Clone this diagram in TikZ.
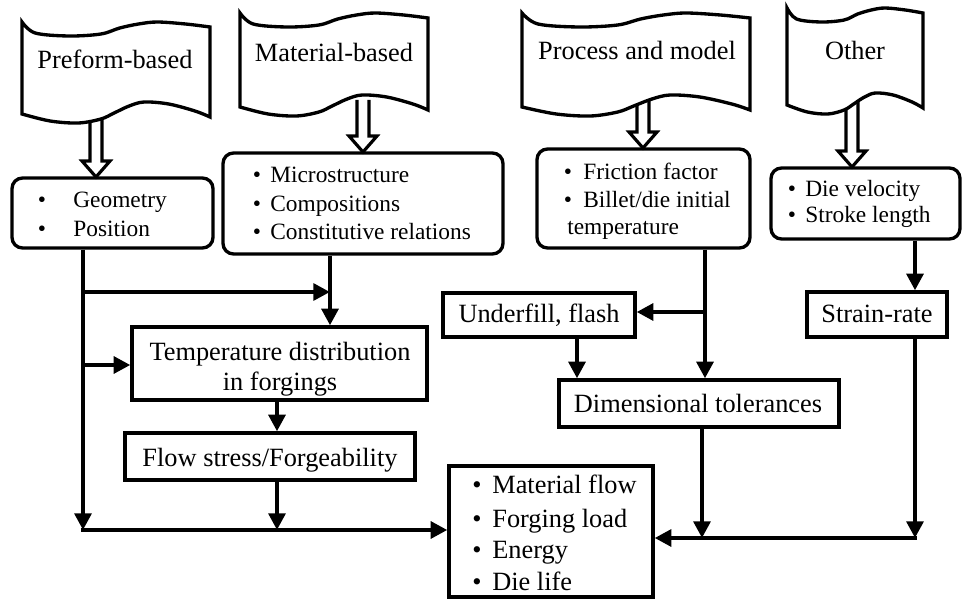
\documentclass[tikz,border=0pt]{standalone}
\usepackage{fontspec}
\setmainfont{Liberation Serif}
\usetikzlibrary{arrows.meta,fit}
\newcommand\fsBig{\fontsize{15}{17}\selectfont}
\newcommand\fsSmall{\fontsize{13.3}{16}\selectfont}
\newcommand\flagshape[4]{%
\draw[flagline] plot[smooth,tension=0.55] coordinates {(#1,#2) ({#1+0.07*#3},{#2+11}) ({#1+0.25*#3},{#2+14}) ({#1+0.42*#3},{#2+12}) ({#1+0.52*#3},{#2+6}) ({#1+0.62*#3},{#2+2}) ({#1+0.72*#3},{#2}) ({#1+0.87*#3},{#2+2}) ({#1+#3},{#2+5})}
 -- plot[smooth,tension=0.55] coordinates {({#1+#3},{#2+#4+3}) ({#1+0.92*#3},{#2+#4-3}) ({#1+0.78*#3},{#2+#4-10}) ({#1+0.65*#3},{#2+#4-12}) ({#1+0.57*#3},{#2+#4-8}) ({#1+0.49*#3},{#2+#4-1}) ({#1+0.42*#3},{#2+#4+5}) ({#1+0.3*#3},{#2+#4+9}) ({#1+0.15*#3},{#2+#4+7}) (#1,{#2+#4})} -- cycle;}
\newcommand\hollowarrow[3]{%
\draw[hollow] ({#1-6},#2) -- ({#1-6},{#3-16}) -- ({#1-14},{#3-16}) -- (#1,#3) -- ({#1+14},{#3-16}) -- ({#1+6},{#3-16}) -- ({#1+6},#2);}
\tikzset{
 conn/.style={line width=2.3pt, -{Triangle[length=9.5pt,width=9.5pt]}},
 rbox/.style={draw, line width=1.9pt, rounded corners=6pt, inner sep=0pt},
 sbox/.style={draw, line width=1.9pt, inner sep=0pt},
 flagline/.style={line width=1.9pt, fill=white},
 hollow/.style={line width=1.8pt, fill=white, line join=miter},
 stxt/.style={inner sep=0pt, font=\fsSmall, anchor=base west},
 sbul/.style={inner sep=0pt, font=\fsSmall, anchor=base},
 btxt/.style={inner sep=0pt, font=\fsBig, anchor=base west},
 bbul/.style={inner sep=0pt, font=\fsBig, anchor=base},
 ftxt/.style={inner sep=0pt, font=\fsBig, anchor=base},
}
\begin{document}
\begin{tikzpicture}[x=0.02cm,y=-0.02cm]
\useasboundingbox (0,0) rectangle (964,601);
% hollow arrows
\hollowarrow{96}{100}{177}
\hollowarrow{363}{100}{152}
\hollowarrow{643}{100}{148}
\hollowarrow{852}{100}{167}
% flags
\flagshape{22}{22}{188}{92}
\flagshape{240}{13}{188}{94}
\flagshape{522}{13}{228}{94}
\flagshape{787}{8}{136}{97}
\node[ftxt] (f1) at (115,69) {Preform-based};
\node[ftxt] (f2) at (334,62) {Material-based};
\node[ftxt] (f3) at (637,60) {Process and model};
\node[ftxt] (f4) at (855,60) {Other};
% rounded boxes
\node[rbox, fit={(12,178) (213,248)}] (b1) {};
\node[sbul] (b1a) at (42,208) {\textbullet};
\node[stxt] (b1b) at (73,208) {Geometry};
\node[sbul] (b1c) at (42,237) {\textbullet};
\node[stxt] (b1d) at (73,237) {Position};
\node[rbox, fit={(223,153) (503,254)}] (b2) {};
\node[sbul] (b2a) at (257,183) {\textbullet};
\node[stxt] (b2b) at (270,183) {Microstructure};
\node[sbul] (b2c) at (257,212) {\textbullet};
\node[stxt] (b2d) at (270,212) {Compositions};
\node[sbul] (b2e) at (257,240) {\textbullet};
\node[stxt] (b2f) at (270,240) {Constitutive relations};
\node[rbox, fit={(537,149) (750,248)}] (b3) {};
\node[sbul] (b3a) at (568,180) {\textbullet};
\node[stxt] (b3b) at (583,180) {Friction factor};
\node[sbul] (b3c) at (568,208) {\textbullet};
\node[stxt] (b3d) at (583,208) {Billet/die initial};
\node[stxt] (b3e) at (567,235) {temperature};
\node[rbox, fit={(771,168) (960,239)}] (b4) {};
\node[sbul] (b4a) at (792,197) {\textbullet};
\node[stxt] (b4b) at (805,197) {Die velocity};
\node[sbul] (b4c) at (792,223) {\textbullet};
\node[stxt] (b4d) at (805,223) {Stroke length};
% square boxes
\node[sbox, fit={(132,327) (427,400)}] (tmp) {};
\node[ftxt] (tmpa) at (280,360) {Temperature distribution};
\node[ftxt] (tmpb) at (280,390) {in forgings};
\node[sbox, fit={(125,433) (415,480)}] (fs) {};
\node[ftxt] (fsa) at (270,466) {Flow stress/Forgeability};
\node[sbox, fit={(443,293) (635,337)}] (uf) {};
\node[ftxt] (ufa) at (539,323) {Underfill, flash};
\node[sbox, fit={(807,292) (947,337)}] (sr) {};
\node[ftxt] (sra) at (877,323) {Strain-rate};
\node[sbox, fit={(559,380) (839,427)}] (dt) {};
\node[ftxt] (dta) at (698,412) {Dimensional tolerances};
\node[sbox, fit={(449,466) (653,597)}] (res) {};
\node[bbul] (r1) at (477,493) {\textbullet};
\node[btxt] (r2) at (492,493) {Material flow};
\node[bbul] (r3) at (477,527) {\textbullet};
\node[btxt] (r4) at (492,527) {Forging load};
\node[bbul] (r5) at (477,558) {\textbullet};
\node[btxt] (r6) at (492,558) {Energy};
\node[bbul] (r7) at (477,590) {\textbullet};
\node[btxt] (r8) at (492,590) {Die life};
% connectors left
\coordinate (j1) at (83,530);
\draw[conn] (b1.south -| j1) -- (j1);
\coordinate (j2) at (83,292);
\coordinate (v2) at (330,0);
\draw[conn] (j2) -- (v2 |- j2);
\draw[conn] (b2.south -| v2) -- (tmp.north -| v2);
\coordinate (j3) at (83,365);
\draw[conn] (j3) -- (tmp.west |- j3);
\coordinate (v3) at (277,0);
\draw[conn] (tmp.south -| v3) -- (fs.north -| v3);
\draw[conn] (fs.south -| v3) -- (v3 |- j1);
\draw[conn, shorten <=-1.15pt] (j1) -- (res.west |- j1);
% connectors right
\coordinate (v5) at (705,0);
\draw[conn] (b3.south -| v5) -- (dt.north -| v5);
\coordinate (j5) at (705,312);
\draw[conn] (j5) -- (uf.east |- j5);
\coordinate (v6) at (577,0);
\draw[conn] (uf.south -| v6) -- (dt.north -| v6);
\coordinate (v7) at (915,0);
\draw[conn] (b4.south -| v7) -- (sr.north -| v7);
\coordinate (j7) at (915,538);
\draw[conn] (sr.south -| v7) -- (j7);
\draw[conn, shorten <=-1.15pt] (j7) -- (res.east |- j7);
\coordinate (v8) at (702,0);
\draw[conn] (dt.south -| v8) -- (v8 |- j7);
\end{tikzpicture}
\end{document}
